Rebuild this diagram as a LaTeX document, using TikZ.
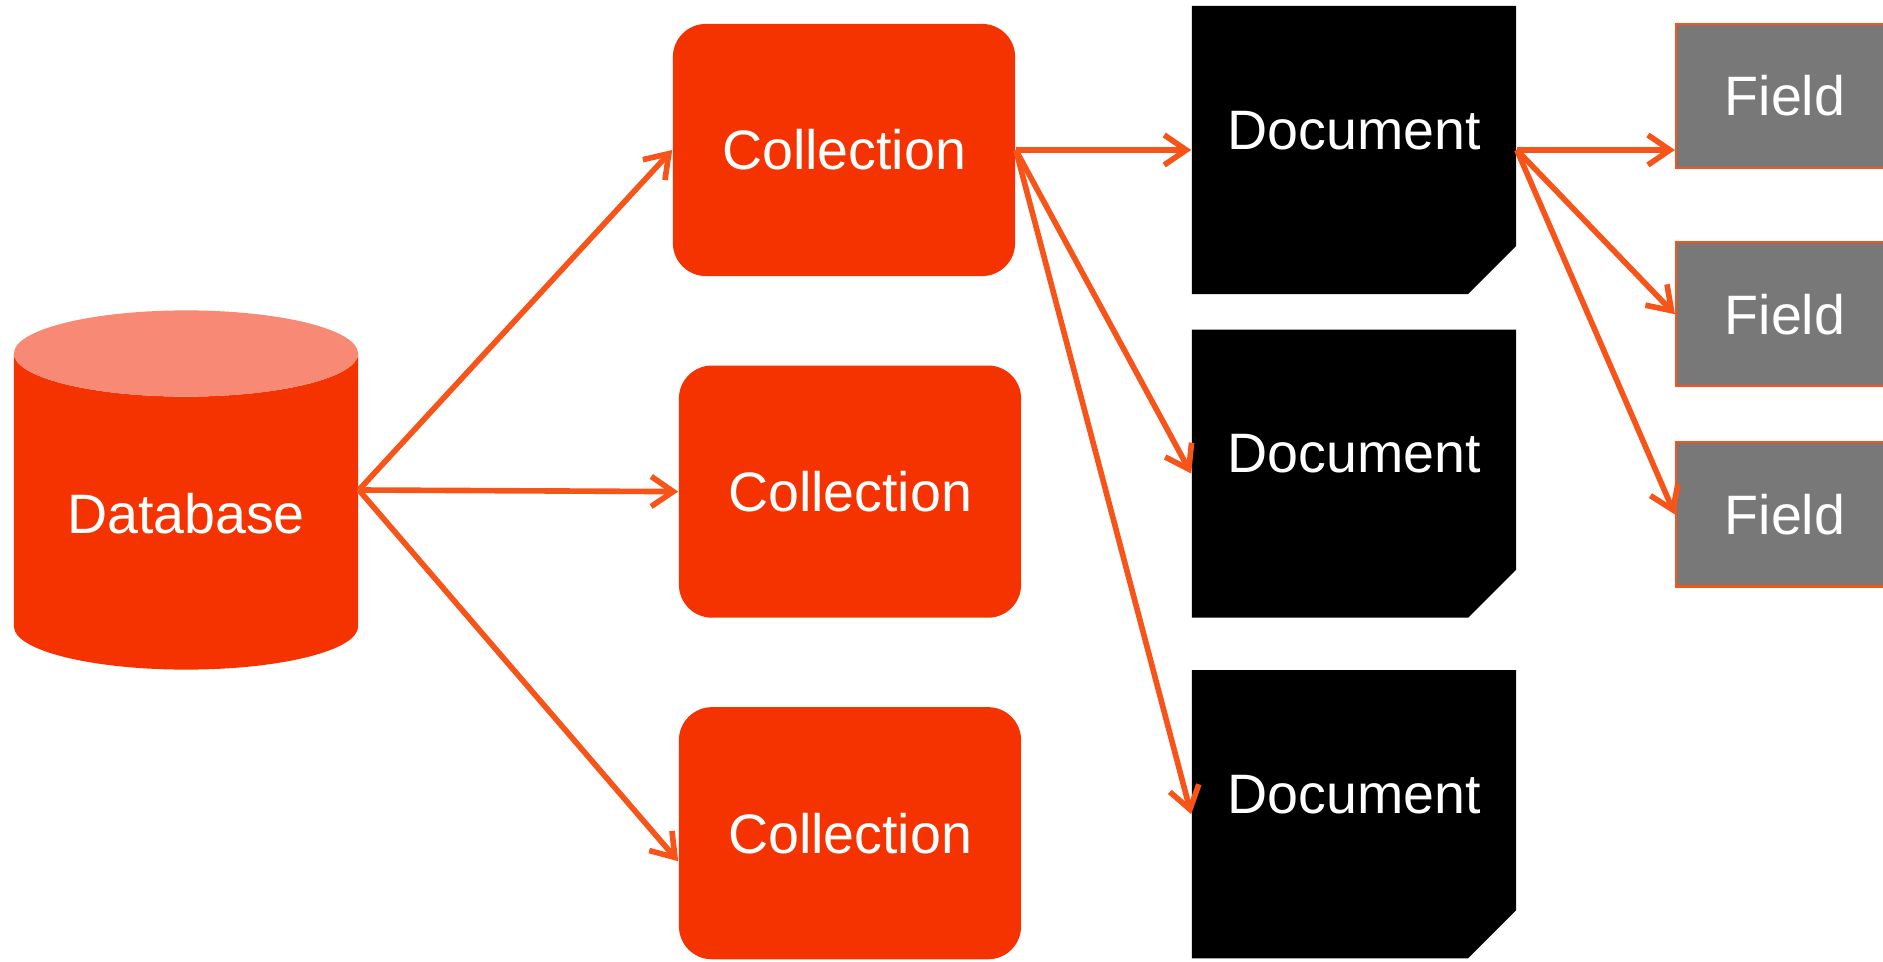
\documentclass[tikz,border=0pt]{standalone}
\usepackage{fontspec}
\setmainfont{Liberation Sans}
\usepackage{tikz}
\usetikzlibrary{shapes.geometric, arrows.meta, positioning}
\usepackage{xcolor}

\definecolor{collred}{RGB}{245,51,0}
\definecolor{linkorange}{RGB}{246,84,24}
\definecolor{dbtop}{RGB}{247,137,117}
\definecolor{fieldgray}{RGB}{120,120,120}

\begin{document}
\begin{tikzpicture}[
    x=0.01cm, y=-0.01cm,
    database/.style={cylinder, shape border rotate=90, aspect=0.33, minimum width=3.44cm, minimum height=3.59cm, cylinder uses custom fill, cylinder body fill=collred, cylinder end fill=dbtop, text=white, text depth=0.12cm}, % red drum with pale top
    collection/.style={rectangle, rounded corners=0.33cm, minimum width=3.42cm, minimum height=2.52cm, fill=collred, text=white},
    docbox/.style={rectangle, minimum width=3.24cm, minimum height=2.88cm, text=white, text depth=0.4cm,
        path picture={\fill[black] (path picture bounding box.north west) -- (path picture bounding box.north east)
            -- ([yshift=0.48cm]path picture bounding box.south east) -- ([xshift=-0.48cm]path picture bounding box.south east)
            -- (path picture bounding box.south west) -- cycle;}}, % black sheet, cut corner
    field/.style={rectangle, draw=linkorange, line width=0.6pt, fill=fieldgray, minimum width=2.18cm, minimum height=1.44cm, text=white},
    arrow/.style={-{Straight Barb[length=0.22cm, width=0.3cm]}, linkorange, line width=1.6pt},
    every node/.append style={font=\fontsize{15.8}{19}\selectfont}
]

% Frame of the picture
\clip (0,0) rectangle (1883,961);

% Left: Database
\node[database, anchor=shape center] (db) at (186,490) {Database};

% Second column: Collections
\node[collection] (col1) at (844,150) {Collection};
\node[collection, below=0.88cm of col1, xshift=0.06cm] (col2) {Collection};
\node[collection, below=0.88cm of col2] (col3) {Collection};

% Third column: Documents
\node[docbox] (doc1) at (1354,150) {Document};
\node[docbox, below=0.34cm of doc1] (doc2) {Document};
\node[docbox, below=0.51cm of doc2] (doc3) {Document};

% Right: Fields (cut by the frame)
\node[field] (field1) at (1785,96) {Field};
\node[field, below=0.72cm of field1] (field2) {Field};
\node[field, below=0.54cm of field2] (field3) {Field};

% database to collections
\draw[arrow] (db.shape center -| db.east) -- (col1.west);
\draw[arrow] (db.shape center -| db.east) -- (col2.west);
\draw[arrow] (db.shape center -| db.east) -- ([yshift=-0.28cm]col3.west);

% collection to documents
\draw[arrow] (col1.east) -- (doc1.west);
\draw[arrow] (col1.east) -- (doc2.west);
\draw[arrow] (col1.east) -- (doc3.west);

% document to fields
\draw[arrow] (doc1.east) -- (doc1.east -| field1.west);
\draw[arrow] (doc1.east) -- (field2.west);
\draw[arrow] (doc1.east) -- (field3.west);

\end{tikzpicture}
\end{document}
